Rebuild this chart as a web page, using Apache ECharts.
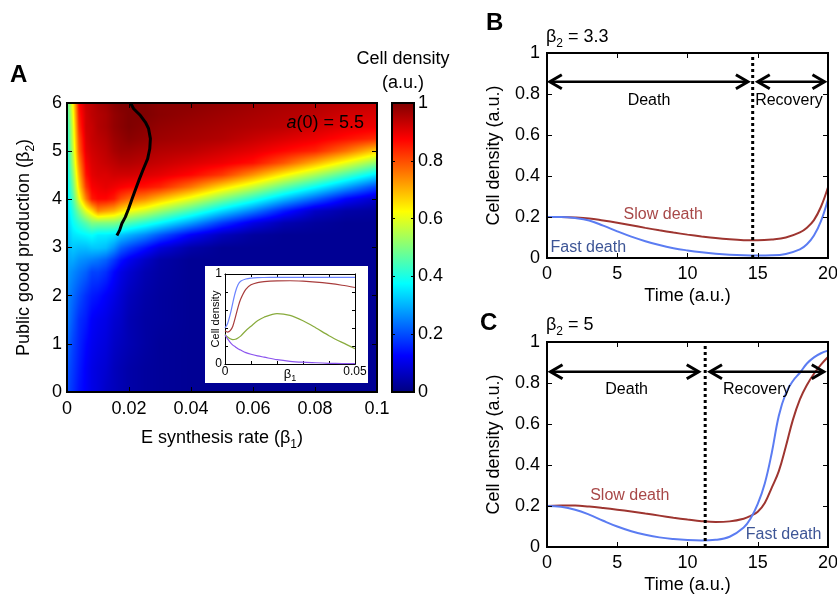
<!DOCTYPE html>
<html><head><meta charset="utf-8">
<script src="https://cdn.jsdelivr.net/npm/echarts@6/dist/echarts.min.js"></script>
<style>html,body{margin:0;padding:0;background:#fff}#chart{width:837px;height:600px}</style>
</head><body><div id="chart"></div>
<script>
// ---------- Panel A: heatmap (cell density vs beta1, beta2) ----------
const betaOne = [0, 0.002, 0.004, 0.006, 0.008, 0.01, 0.0125, 0.015, 0.0175, 0.02, 0.025, 0.03, 0.04, 0.05, 0.06, 0.07, 0.08, 0.09, 0.1];
const betaTwo = [0, 0.5, 1, 1.5, 2, 2.5, 2.75, 3, 3.25, 3.5, 3.75, 4, 4.25, 4.5, 4.75, 5, 5.25, 5.5, 5.75, 6];
// one row per beta1 column, values listed from beta2 = 0 upward
const cellDensity = [
  [0.20,0.21,0.23,0.25,0.26,0.28,0.29,0.30,0.31,0.32,0.33,0.34,0.35,0.36,0.37,0.38,0.39,0.40,0.42,0.45],
  [0.17,0.18,0.19,0.21,0.23,0.26,0.29,0.32,0.35,0.38,0.41,0.45,0.48,0.51,0.54,0.56,0.58,0.59,0.61,0.63],
  [0.14,0.15,0.16,0.17,0.20,0.24,0.27,0.31,0.36,0.42,0.50,0.60,0.66,0.70,0.74,0.78,0.80,0.83,0.85,0.87],
  [0.12,0.12,0.13,0.15,0.17,0.22,0.26,0.31,0.37,0.46,0.60,0.75,0.82,0.86,0.88,0.90,0.91,0.92,0.92,0.93],
  [0.10,0.10,0.11,0.12,0.15,0.19,0.25,0.32,0.38,0.50,0.66,0.85,0.88,0.90,0.91,0.92,0.93,0.93,0.94,0.94],
  [0.09,0.09,0.10,0.11,0.14,0.19,0.24,0.32,0.36,0.50,0.74,0.87,0.89,0.91,0.92,0.93,0.94,0.95,0.95,0.96],
  [0.07,0.08,0.09,0.10,0.12,0.17,0.22,0.31,0.36,0.50,0.72,0.87,0.90,0.91,0.93,0.94,0.95,0.96,0.96,0.97],
  [0.06,0.06,0.07,0.08,0.10,0.13,0.18,0.27,0.35,0.50,0.70,0.85,0.89,0.92,0.94,0.96,0.97,0.98,0.98,0.99],
  [0.05,0.05,0.06,0.07,0.08,0.10,0.14,0.22,0.32,0.48,0.66,0.80,0.88,0.92,0.95,0.97,0.98,0.99,0.99,1.00],
  [0.04,0.04,0.05,0.05,0.06,0.08,0.11,0.19,0.30,0.45,0.62,0.77,0.87,0.92,0.95,0.97,0.99,1.00,1.00,1.00],
  [0.03,0.03,0.035,0.035,0.04,0.05,0.07,0.14,0.26,0.41,0.58,0.74,0.86,0.91,0.94,0.96,0.98,0.99,1.00,1.00],
  [0.025,0.025,0.025,0.03,0.03,0.035,0.04,0.09,0.21,0.37,0.53,0.69,0.84,0.90,0.93,0.95,0.97,0.98,0.99,0.99],
  [0.02,0.02,0.02,0.02,0.02,0.02,0.02,0.04,0.12,0.28,0.44,0.60,0.76,0.87,0.91,0.94,0.96,0.97,0.98,0.99],
  [0.02,0.02,0.02,0.02,0.02,0.02,0.02,0.02,0.06,0.18,0.34,0.50,0.66,0.82,0.89,0.92,0.95,0.96,0.97,0.98],
  [0.02,0.02,0.02,0.02,0.02,0.02,0.02,0.02,0.03,0.10,0.25,0.41,0.57,0.73,0.86,0.90,0.93,0.95,0.96,0.97],
  [0.02,0.02,0.02,0.02,0.02,0.02,0.02,0.02,0.02,0.05,0.15,0.31,0.47,0.63,0.79,0.87,0.91,0.94,0.95,0.96],
  [0.02,0.02,0.02,0.02,0.02,0.02,0.02,0.02,0.02,0.03,0.07,0.22,0.38,0.54,0.70,0.84,0.89,0.92,0.94,0.95],
  [0.02,0.02,0.02,0.02,0.02,0.02,0.02,0.02,0.02,0.02,0.04,0.125,0.285,0.445,0.605,0.765,0.86,0.90,0.92,0.94],
  [0.02,0.02,0.02,0.02,0.02,0.02,0.02,0.02,0.02,0.02,0.03,0.07,0.19,0.35,0.51,0.67,0.83,0.89,0.91,0.93]
];
// black threshold line
const lineBeta1 = [0.0205, 0.0215, 0.0237, 0.0253, 0.0263, 0.0269, 0.0267, 0.0260, 0.0247, 0.0234, 0.0220, 0.0210, 0.0199, 0.0188, 0.0177, 0.0170, 0.0161];
const lineBeta2 = [6.0, 5.88, 5.74, 5.60, 5.47, 5.26, 5.05, 4.84, 4.64, 4.43, 4.19, 4.01, 3.81, 3.63, 3.50, 3.36, 3.25];
const colorbarRange = [0, 1];

// inset
const insetBeta1  = [0, 0.001, 0.002, 0.003, 0.004, 0.005, 0.006, 0.008, 0.01, 0.0125, 0.015, 0.02, 0.025, 0.03, 0.035, 0.04, 0.045, 0.05];
const insetBlue   = [0.40, 0.45, 0.55, 0.68, 0.80, 0.88, 0.92, 0.945, 0.955, 0.96, 0.961, 0.962, 0.962, 0.962, 0.962, 0.962, 0.962, 0.962];
const insetRed    = [0.37, 0.355, 0.37, 0.42, 0.52, 0.63, 0.72, 0.83, 0.88, 0.905, 0.915, 0.923, 0.925, 0.92, 0.91, 0.895, 0.875, 0.85];
const insetGreen  = [0.33, 0.30, 0.28, 0.27, 0.275, 0.29, 0.31, 0.37, 0.42, 0.48, 0.52, 0.56, 0.54, 0.48, 0.40, 0.315, 0.24, 0.17];
const insetPurple = [0.32, 0.28, 0.24, 0.21, 0.19, 0.17, 0.155, 0.127, 0.108, 0.09, 0.076, 0.048, 0.03, 0.02, 0.014, 0.008, 0.005, 0.004];

// ---------- Panel B: beta2 = 3.3 ----------
const timeB = [0,1,2,3,4,5,6,7,8,9,10,11,12,13,14,15,16,17,18,18.5,19,19.5,20];
const slowB = [0.2,0.2,0.198,0.193,0.183,0.172,0.16,0.147,0.135,0.124,0.114,0.105,0.097,0.091,0.087,0.086,0.09,0.1,0.125,0.148,0.185,0.25,0.345];
const fastB = [0.2,0.2,0.195,0.183,0.158,0.13,0.104,0.082,0.063,0.048,0.037,0.028,0.021,0.016,0.013,0.012,0.013,0.02,0.042,0.067,0.11,0.18,0.287];
const switchB = 14.64;
const arrowsB = [[0.2, 14.3, 0.86], [15.0, 19.75, 0.86]];
const textB = ['Death', 'Recovery', 'Slow death', 'Fast death'];
const textPosB = [[7.26, 0.77], [17.22, 0.77], [8.27, 0.211], [2.94, 0.051]];

// ---------- Panel C: beta2 = 5 ----------
const timeC = [0,1,2,3,4,5,6,7,8,9,10,11,12,13,14,14.5,15,15.5,16,16.5,17,17.5,18,18.5,19,19.5,20];
const slowC = [0.2,0.202,0.202,0.197,0.19,0.182,0.173,0.163,0.153,0.143,0.134,0.126,0.122,0.125,0.138,0.152,0.172,0.215,0.29,0.37,0.49,0.62,0.72,0.79,0.845,0.89,0.927];
const fastC = [0.2,0.196,0.182,0.158,0.128,0.1,0.077,0.06,0.047,0.039,0.034,0.032,0.035,0.05,0.095,0.14,0.21,0.31,0.46,0.64,0.75,0.81,0.85,0.895,0.925,0.945,0.958];
const switchC = 11.26;
const arrowsC = [[0.25, 10.8, 0.855], [11.6, 19.7, 0.855]];
const textC = ['Death', 'Recovery', 'Slow death', 'Fast death'];
const textPosC = [[5.67, 0.77], [14.93, 0.77], [5.89, 0.249], [16.84, 0.059]];

// ---------- helpers ----------
const FONT = '"Liberation Sans", Arial, Helvetica, sans-serif';
const SLOW_LINE = '#9e3530', FAST_LINE = '#5b7cf2', SLOW_TEXT = '#a84848', FAST_TEXT = '#3d5596';
function clamp01(v){ return v < 0 ? 0 : (v > 1 ? 1 : v); }
function jet(v){ v = clamp01(v); return [clamp01(1.5-Math.abs(4*v-3)), clamp01(1.5-Math.abs(4*v-2)), clamp01(1.5-Math.abs(4*v-1))]; }
function jetCss(v){ const c = jet(v); return 'rgb(' + Math.round(c[0]*255) + ',' + Math.round(c[1]*255) + ',' + Math.round(c[2]*255) + ')'; }

function makeAxis(gi, dim, pos, min, max, interval, o, main) {
  const ax = {
    type: 'value', gridIndex: gi, position: pos, min: min, max: max, interval: interval, z: o.z || 5, silent: true,
    nameMoveOverlap: false,
    axisLine: { show: true, onZero: false, lineStyle: { color: '#000', width: o.lw, cap: 'square' } },
    axisTick: { show: o.tick !== false, inside: true, length: o.tickLen, lineStyle: { color: '#000', width: 1 } },
    axisLabel: { show: !!(main && o.label !== false), color: '#000', fontSize: o.fs, fontFamily: FONT, margin: o.margin },
    splitLine: { show: false }
  };
  if (o.formatter) ax.axisLabel.formatter = o.formatter;
  if (main && o.name) {
    ax.name = o.name; ax.nameLocation = 'middle'; ax.nameGap = o.nameGap;
    ax.nameTextStyle = { color: '#000', fontSize: o.nameFs, fontFamily: FONT, rich: o.rich || {} };
  }
  return ax;
}
const xAxes = [], yAxes = [];
function box(gi, xr, yr, xo, yo, yMainRight) {
  xAxes.push(makeAxis(gi, 'x', 'bottom', xr[0], xr[1], xr[2], xo, true));
  xAxes.push(makeAxis(gi, 'x', 'top', xr[0], xr[1], xr[2], xo, false));
  if (yMainRight) {
    yAxes.push(makeAxis(gi, 'y', 'left', yr[0], yr[1], yr[2], yo, false));
    yAxes.push(makeAxis(gi, 'y', 'right', yr[0], yr[1], yr[2], yo, true));
  } else {
    yAxes.push(makeAxis(gi, 'y', 'left', yr[0], yr[1], yr[2], yo, true));
    yAxes.push(makeAxis(gi, 'y', 'right', yr[0], yr[1], yr[2], yo, false));
  }
}
const subRich = (fs, lh) => ({ s: { fontSize: fs, lineHeight: lh, verticalAlign: 'bottom', fontFamily: FONT, color: '#000' } });

// grid 0: heatmap
box(0, [0, 0.1, 0.02], [0, 6, 1],
  { lw: 2, tickLen: 5, fs: 18, margin: 8, name: 'E synthesis rate (β{s|1})', nameGap: 33, nameFs: 18, rich: subRich(12, 26) },
  { lw: 2, tickLen: 5, fs: 18, margin: 5, name: 'Public good production (β{s|2})', nameGap: 30, nameFs: 18, rich: subRich(12, 26) });
// grid 1: colorbar
box(1, [0, 1, 1], [0, 1, 0.2],
  { lw: 2, tickLen: 0, tick: false, fs: 18, margin: 8, label: false },
  { lw: 2, tickLen: 3, fs: 18, margin: 4 }, true);
// grid 2: inset
box(2, [0, 0.05, 0.01], [0, 1, 0.2],
  { lw: 1, tickLen: 3, fs: 12, margin: 2, z: 12, name: 'β{s|1}', nameGap: 1, nameFs: 13, rich: subRich(9, 18),
    formatter: v => (Math.abs(v) < 1e-9 ? '0' : (Math.abs(v - 0.05) < 1e-9 ? '0.05' : '')) },
  { lw: 1, tickLen: 3, fs: 12, margin: 3, z: 12, name: 'Cell density', nameGap: 4, nameFs: 11,
    formatter: v => (Math.abs(v) < 1e-9 ? '0' : (Math.abs(v - 1) < 1e-9 ? '1' : '')) });
// grid 3, 4: panels B, C
[3, 4].forEach(gi => box(gi, [0, 20, 5], [0, 1, 0.2],
  { lw: 2, tickLen: 5, fs: 18, margin: 7, name: 'Time (a.u.)', nameGap: 29, nameFs: 18 },
  { lw: 2, tickLen: 5, fs: 18, margin: 7, name: 'Cell density (a.u.)', nameGap: 44, nameFs: 18 }));

const grids = [
  { left: 67, top: 103, width: 310, height: 289 },
  { left: 392, top: 103, width: 22, height: 289 },
  { left: 225, top: 274, width: 130, height: 90 },
  { left: 547, top: 53, width: 281, height: 205 },
  { left: 547, top: 342, width: 281, height: 205 }
].map(g => Object.assign({ containLabel: false, outerBoundsMode: 'none', show: false }, g));

// heatmap cells
const heatCells = [];
for (let i = 0; i < betaOne.length - 1; i++)
  for (let j = 0; j < betaTwo.length - 1; j++)
    heatCells.push([betaOne[i], betaTwo[j], i, j]);

function renderCell(params, api) {
  const i = api.value(2), j = api.value(3);
  const p0 = api.coord([betaOne[i], betaTwo[j]]);
  const p1 = api.coord([betaOne[i + 1], betaTwo[j + 1]]);
  const x0 = Math.round(p0[0]), x1 = Math.round(p1[0]);
  const yT = Math.round(p1[1]), yB = Math.round(p0[1]);
  const w = x1 - x0, h = yB - yT;
  if (w <= 0 || h <= 0) return null;
  const c = document.createElement('canvas'); c.width = w; c.height = h;
  const ctx = c.getContext('2d'); const img = ctx.createImageData(w, h);
  const v00 = cellDensity[i][j], v10 = cellDensity[i + 1][j], v01 = cellDensity[i][j + 1], v11 = cellDensity[i + 1][j + 1];
  for (let py = 0; py < h; py++) {
    const t = 1 - (py + 0.5) / h;
    for (let px = 0; px < w; px++) {
      const u = (px + 0.5) / w;
      const v = v00 * (1 - u) * (1 - t) + v10 * u * (1 - t) + v01 * (1 - u) * t + v11 * u * t;
      const col = jet(v); const k = (py * w + px) * 4;
      img.data[k] = Math.round(col[0] * 255); img.data[k + 1] = Math.round(col[1] * 255);
      img.data[k + 2] = Math.round(col[2] * 255); img.data[k + 3] = 255;
    }
  }
  ctx.putImageData(img, 0, 0);
  return { type: 'image', style: { image: c, x: x0, y: yT, width: w, height: h } };
}

function renderColorbar(params, api) {
  const p0 = api.coord([0, api.value(0)]), p1 = api.coord([1, api.value(1)]);
  const stops = [0, 0.125, 0.375, 0.625, 0.875, 1].map(o => ({ offset: o, color: jetCss(o) }));
  return { type: 'rect', shape: { x: p0[0], y: p1[1], width: p1[0] - p0[0], height: p0[1] - p1[1] },
    style: { fill: new echarts.graphic.LinearGradient(0, 1, 0, 0, stops) } };
}

function renderArrow(params, api) {
  const a = api.coord([api.value(0), api.value(2)]), b = api.coord([api.value(1), api.value(2)]);
  const hl = 12, hw = 7;
  const st = { stroke: '#000', lineWidth: 3, fill: null, lineJoin: 'miter', lineCap: 'butt' };
  return { type: 'group', children: [
    { type: 'line', shape: { x1: a[0] + 2, y1: a[1], x2: b[0] - 2, y2: b[1] }, style: { stroke: '#000', lineWidth: 2.5 } },
    { type: 'polyline', shape: { points: [[a[0] + hl, a[1] - hw], [a[0], a[1]], [a[0] + hl, a[1] + hw]] }, style: st },
    { type: 'polyline', shape: { points: [[b[0] - hl, b[1] - hw], [b[0], b[1]], [b[0] - hl, b[1] + hw]] }, style: st }
  ]};
}
function textRenderer(labels) {
  const colors = ['#000', '#000', SLOW_TEXT, FAST_TEXT];
  return function (params, api) {
    const p = api.coord([api.value(0), api.value(1)]); const k = api.value(2);
    return { type: 'text', x: p[0], y: p[1], style: { text: labels[k], fill: colors[k], fontSize: 16, fontFamily: FONT, align: 'center', verticalAlign: 'middle' } };
  };
}
const zip = (a, b) => a.map((v, i) => [v, b[i]]);

function panelSeries(gi, time, slow, fast, sw, arrows, labels, pos) {
  const ax = gi * 2;
  return [
    { type: 'line', xAxisIndex: ax, yAxisIndex: ax, data: zip(time, slow), smooth: 0.4, symbol: 'none', lineStyle: { color: SLOW_LINE, width: 2 }, z: 3 },
    { type: 'line', xAxisIndex: ax, yAxisIndex: ax, data: zip(time, fast), smooth: 0.4, symbol: 'none', lineStyle: { color: FAST_LINE, width: 2 }, z: 3 },
    { type: 'line', xAxisIndex: ax, yAxisIndex: ax, data: [[sw, 0], [sw, 1]], symbol: 'none', lineStyle: { color: '#000', width: 3, type: [3, 3] }, z: 4 },
    { type: 'custom', xAxisIndex: ax, yAxisIndex: ax, data: arrows, renderItem: renderArrow, z: 4, silent: true, encode: { x: [0, 1], y: 2 } },
    { type: 'custom', xAxisIndex: ax, yAxisIndex: ax, data: pos.map((p, k) => [p[0], p[1], k]), renderItem: textRenderer(labels), z: 4, silent: true, encode: { x: 0, y: 1 } }
  ];
}

const insetLine = (vals, color) => ({ type: 'line', xAxisIndex: 4, yAxisIndex: 4, data: zip(insetBeta1, vals), smooth: 0.3, symbol: 'none', lineStyle: { color: color, width: 1.2 }, z: 12 });

const series = [
  { type: 'custom', xAxisIndex: 0, yAxisIndex: 0, data: heatCells, renderItem: renderCell, encode: { x: 0, y: 1 }, z: 1, silent: true, clip: false },
  { type: 'line', xAxisIndex: 0, yAxisIndex: 0, data: zip(lineBeta1, lineBeta2), symbol: 'none', lineStyle: { color: '#000', width: 3 }, z: 3 },
  { type: 'custom', xAxisIndex: 2, yAxisIndex: 2, data: [colorbarRange], renderItem: renderColorbar, encode: { y: [0, 1] }, z: 1, silent: true },
  insetLine(insetBlue, '#6a82ff'), insetLine(insetRed, '#a83c3c'), insetLine(insetGreen, '#88ab3c'), insetLine(insetPurple, '#8c55ee')
].concat(panelSeries(3, timeB, slowB, fastB, switchB, arrowsB, textB, textPosB))
 .concat(panelSeries(4, timeC, slowC, fastC, switchC, arrowsC, textC, textPosC));

const subG = { fontSize: 12, lineHeight: 26, verticalAlign: 'bottom', fontFamily: FONT, fill: '#000' };
const graphic = [
  { type: 'rect', z: 10, shape: { x: 205, y: 266, width: 163, height: 117 }, style: { fill: '#fff' } },
  { type: 'text', z: 10, x: 364, y: 123, style: { text: '{i|a}(0) = 5.5', fontSize: 18, fontFamily: FONT, fill: '#000', align: 'right', verticalAlign: 'middle',
      rich: { i: { fontStyle: 'italic', fontSize: 18, fontFamily: FONT, fill: '#000' } } } },
  { type: 'text', x: 10, y: 75, style: { text: 'A', fontSize: 24, fontWeight: 'bold', fontFamily: FONT, fill: '#000', verticalAlign: 'middle' } },
  { type: 'text', x: 486, y: 23, style: { text: 'B', fontSize: 24, fontWeight: 'bold', fontFamily: FONT, fill: '#000', verticalAlign: 'middle' } },
  { type: 'text', x: 480, y: 323, style: { text: 'C', fontSize: 24, fontWeight: 'bold', fontFamily: FONT, fill: '#000', verticalAlign: 'middle' } },
  { type: 'text', x: 546, y: 37, style: { text: 'β{s|2} = 3.3', fontSize: 18, fontFamily: FONT, fill: '#000', verticalAlign: 'middle', rich: { s: subG } } },
  { type: 'text', x: 546, y: 325, style: { text: 'β{s|2} = 5', fontSize: 18, fontFamily: FONT, fill: '#000', verticalAlign: 'middle', rich: { s: subG } } },
  { type: 'text', x: 403, y: 71, style: { text: 'Cell density\n(a.u.)', fontSize: 18, lineHeight: 24, fontFamily: FONT, fill: '#000', align: 'center', verticalAlign: 'middle' } }
];

const chart = echarts.init(document.getElementById('chart'), null, { renderer: 'canvas' });
chart.setOption({
  animation: false,
  backgroundColor: '#fff',
  textStyle: { fontFamily: FONT },
  grid: grids, xAxis: xAxes, yAxis: yAxes, series: series, graphic: graphic
});
</script></body></html>
